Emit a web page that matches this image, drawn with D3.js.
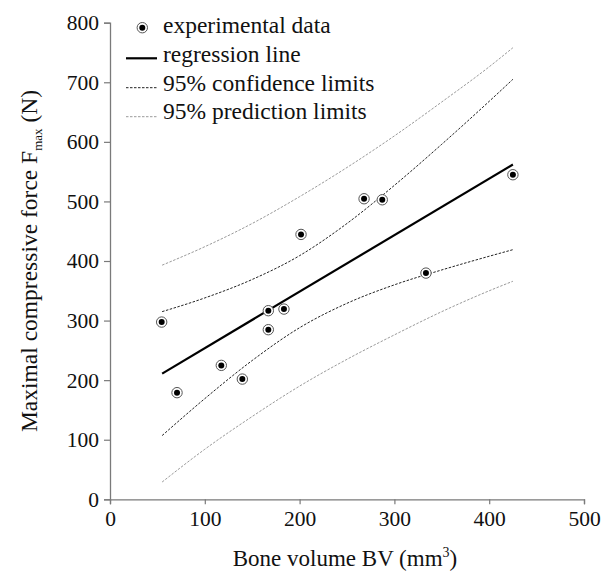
<!DOCTYPE html>
<html>
<head>
<meta charset="utf-8">
<script src="https://cdn.jsdelivr.net/npm/d3@7"></script>
<style>
  body { margin: 0; }
  svg text, svg tspan { font-family: "Liberation Serif", Tinos, monospace !important; }
</style>
</head>
<body>
<script>
// measured points (bone volume mm3, max force N)
const bv = [54.5, 70.7, 117.4, 139.6, 167, 167, 183.5, 201.5, 268, 287.2, 333.3, 425];
const fmax = [297.5, 179, 224.8, 201.8, 316.6, 284.7, 319.3, 444.6, 504.5, 502.8, 379.7, 544.8];

// regression line end points
const regX = [55, 425];
const regY = [211, 562];

// band curves
const bandX = [55, 100, 150, 200, 250, 300, 350, 400, 425];
const confUpper = [315, 338, 369, 409, 463, 527, 596, 668, 705];
const confLower = [107, 169, 233, 288, 329, 360, 385, 408, 419];
const predUpper = [393, 424, 463, 508, 557, 610, 667, 726, 758];
const predLower = [29, 84, 139, 190, 235, 276, 315, 350, 366];

const xTicks = [0, 100, 200, 300, 400, 500];
const yTicks = [0, 100, 200, 300, 400, 500, 600, 700, 800];

const legendLabels = ["experimental data", "regression line", "95% confidence limits", "95% prediction limits"];

const W = 613, H = 571;
const margin = {top: 22.7, right: 29, bottom: 71.7, left: 110};
const FONT = '"Liberation Serif", Tinos, monospace';

const svg = d3.select("body").append("svg")
  .attr("width", W).attr("height", H)
  .attr("font-family", FONT);

const x = d3.scaleLinear().domain([0, 500]).range([margin.left, W - margin.right]);
const y = d3.scaleLinear().domain([0, 800]).range([H - margin.bottom, margin.top]);

const axisColor = "#7a7a7a";

const gx = svg.append("g")
  .attr("transform", `translate(0,${y(0)})`)
  .call(d3.axisBottom(x).tickValues(xTicks).tickSize(5).tickPadding(6));
const gy = svg.append("g")
  .attr("transform", `translate(${x(0)},0)`)
  .call(d3.axisLeft(y).tickValues(yTicks).tickSize(6).tickPadding(5));

[gx, gy].forEach(g => {
  g.attr("font-family", FONT).attr("font-size", 21.5);
  g.select(".domain").attr("stroke", axisColor).attr("stroke-width", 1.3);
  g.selectAll(".tick line").attr("stroke", axisColor).attr("stroke-width", 1.2);
  g.selectAll(".tick text").attr("fill", "#111").attr("font-family", FONT);
});

// axis titles
const xt = svg.append("text")
  .attr("x", 345).attr("y", 566)
  .attr("text-anchor", "middle")
  .attr("font-family", FONT).attr("font-size", 23)
  .attr("fill", "#111");
xt.append("tspan").text("Bone volume BV (mm");
xt.append("tspan").attr("dy", -9).attr("font-size", 14).text("3");
xt.append("tspan").attr("dy", 9).text(")");

const yt = svg.append("text")
  .attr("transform", `translate(37,${y(400)}) rotate(-90)`)
  .attr("text-anchor", "middle")
  .attr("font-family", FONT).attr("font-size", 23.5)
  .attr("fill", "#111");
yt.append("tspan").text("Maximal compressive force F");
yt.append("tspan").attr("dy", 5).attr("font-size", 13).text("max");
yt.append("tspan").attr("dy", -5).text(" (N)");

// bands
const band = (vals) => d3.line()
  .x((d, i) => x(bandX[i]))
  .y(d => y(d))
  .curve(d3.curveMonotoneX)(vals);

const predStyle = {stroke: "#9a9a9a", width: 1, dash: "2.5,1.5"};
const confStyle = {stroke: "#222", width: 1, dash: "2.5,1.5"};

[predUpper, predLower].forEach(v => {
  svg.append("path").attr("d", band(v))
    .attr("fill", "none").attr("stroke", predStyle.stroke)
    .attr("stroke-width", predStyle.width).attr("stroke-dasharray", predStyle.dash);
});
[confUpper, confLower].forEach(v => {
  svg.append("path").attr("d", band(v))
    .attr("fill", "none").attr("stroke", confStyle.stroke)
    .attr("stroke-width", confStyle.width).attr("stroke-dasharray", confStyle.dash);
});

// regression line
svg.append("line")
  .attr("x1", x(regX[0])).attr("y1", y(regY[0]))
  .attr("x2", x(regX[1])).attr("y2", y(regY[1]))
  .attr("stroke", "#000").attr("stroke-width", 2.2);

// points
function marker(g, cx, cy) {
  g.append("circle").attr("cx", cx).attr("cy", cy).attr("r", 5.2)
    .attr("fill", "#fff").attr("stroke", "#555").attr("stroke-width", 1);
  g.append("circle").attr("cx", cx).attr("cy", cy).attr("r", 3)
    .attr("fill", "#000");
}
const pts = svg.append("g");
bv.forEach((v, i) => marker(pts, x(v), y(fmax[i])));

// legend
const leg = svg.append("g");
const rowY = [33.3, 62, 90.7, 119.3];
legendLabels.forEach((t, i) => {
  leg.append("text").attr("x", 163).attr("y", rowY[i])
    .attr("font-family", FONT).attr("font-size", 23.5)
    .attr("fill", "#111").text(t);
});
marker(leg, 142.3, 27.7);
leg.append("line").attr("x1", 126).attr("x2", 157).attr("y1", 58.3).attr("y2", 58.3)
  .attr("stroke", "#000").attr("stroke-width", 2.2);
leg.append("line").attr("x1", 126).attr("x2", 157).attr("y1", 87.7).attr("y2", 87.7)
  .attr("stroke", confStyle.stroke).attr("stroke-width", 1).attr("stroke-dasharray", confStyle.dash);
leg.append("line").attr("x1", 126).attr("x2", 157).attr("y1", 116.7).attr("y2", 116.7)
  .attr("stroke", predStyle.stroke).attr("stroke-width", 1).attr("stroke-dasharray", predStyle.dash);
</script>
</body>
</html>
